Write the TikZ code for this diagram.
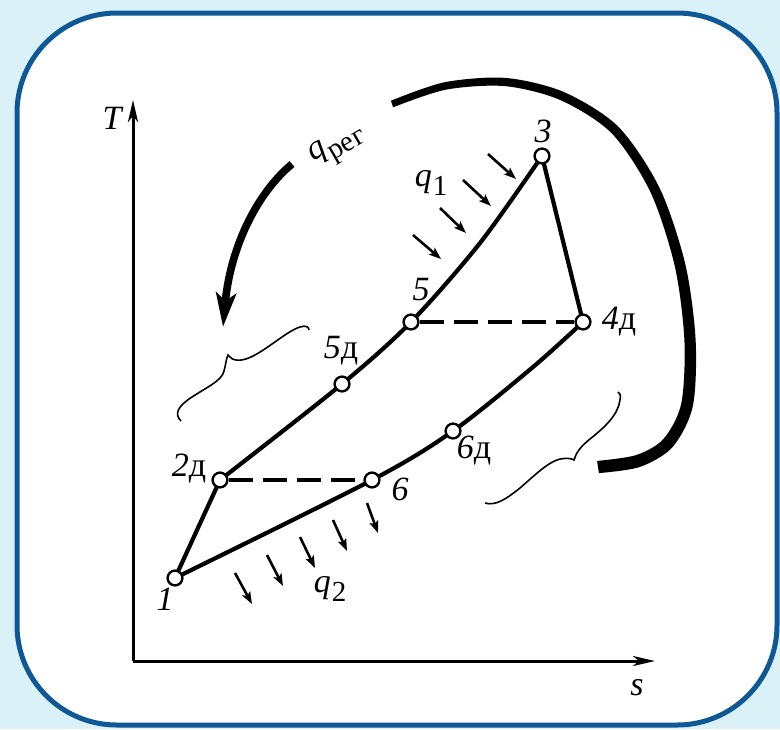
\documentclass[tikz,border=0pt]{standalone}
\usepackage{fontspec}
\setmainfont{Liberation Serif}
\usetikzlibrary{arrows.meta}
\definecolor{bgblue}{RGB}{218,241,248}
\definecolor{frameblue}{RGB}{14,88,150}
\newcommand{\qsb}[1]{\textit{q}\kern0.5pt\raisebox{-0.55ex}{\fontsize{14.5}{15}\selectfont #1}}
\begin{document}
\begin{tikzpicture}[x=0.5pt,y=-0.5pt,
  ptnode/.style={circle,draw,fill=white,line width=1.2pt,minimum size=7.4pt,inner sep=0pt},
  cyc/.style={line width=2.1pt},
  dsh/.style={line width=1.7pt,dash pattern=on 12pt off 5pt},
  axisline/.style={line width=1.5pt,-{Stealth[length=11pt,width=5pt,inset=3pt]}},
  heat/.style={line width=1.3pt,-{Stealth[length=6pt,width=4.4pt,inset=1.2pt]}},
  lab/.style={font=\fontsize{17}{19}\selectfont, inner sep=0pt},
  bracel/.style={line width=0.8pt},
  regarrow/.style={line width=3.8pt,-{Stealth[length=17pt,width=10pt,inset=4pt]}}]
\fill[bgblue] (0,0) rectangle (780,729);
\useasboundingbox (0,0) rectangle (780,729);
\draw[frameblue, line width=2.5pt, fill=white, rounded corners=50pt] (17,13) rectangle (777,725);

% axes
\coordinate (o) at (133,661);
\coordinate (tend) at (133,100);
\coordinate (send) at (655,661);
\draw[axisline] (o) -- (tend);
\draw[axisline] (o) -- (send);
\node[lab] (lT) at (113,118) {\textit{T}};
\node[lab] (ls) at (637,688) {\textit{s}};

% state points
\coordinate (c1) at (175,578);
\coordinate (c2d) at (220,480);
\coordinate (c5d) at (342,384);
\coordinate (c5) at (411,322);
\coordinate (m53) at (480,243);
\coordinate (c3) at (542,156);
\coordinate (c4d) at (583,322);
\coordinate (m46) at (533,367);
\coordinate (c6d) at (453,431);
\coordinate (c6) at (372,480);

\draw[cyc] plot[smooth] coordinates {(c2d) (c5d) (c5) (m53) (c3)};
\draw[cyc] plot[smooth] coordinates {(c4d) (m46) (c6d) (c6) (c1)};
\draw[cyc] (c1) -- (c2d);
\draw[cyc] (c3) -- (c4d);

\node[ptnode] (n1) at (c1) {};
\node[ptnode] (n2d) at (c2d) {};
\node[ptnode] (n5d) at (c5d) {};
\node[ptnode] (n5) at (c5) {};
\node[ptnode] (n3) at (c3) {};
\node[ptnode] (n4d) at (c4d) {};
\node[ptnode] (n6d) at (c6d) {};
\node[ptnode] (n6) at (c6) {};

\draw[dsh] (n2d) -- (n6);
\draw[dsh] (n5) -- (n4d);

% labels
\node[lab] (l1) at (165,599) {\textit{1}};
\node[lab] (l2d) at (189,469) {\textit{2}д};
\node[lab] (l5d) at (341,351) {\textit{5}д};
\node[lab] (l5) at (421,290) {\textit{5}};
\node[lab] (l3) at (543,131) {\textit{3}};
\node[lab] (l4d) at (619,322) {\textit{4}д};
\node[lab] (l6) at (400,489) {\textit{6}};
\node[lab] (l6d) at (474,451) {\textit{6}д};
\node[lab] (lq1) at (431,183) {\qsb{1}};
\node[lab] (lq2) at (330,589) {\qsb{2}};
\node[lab, rotate=30] (lqr) at (338,147) {\qsb{рег}};

% heat arrows q1
\draw[heat] (413,235) -- (441,259);
\draw[heat] (440,208) -- (466,233);
\draw[heat] (463,180) -- (491,206);
\draw[heat] (488,154) -- (516,179);
% heat arrows q2
\draw[heat] (235,573) -- (252,604);
\draw[heat] (267,555) -- (283,586);
\draw[heat] (300,537) -- (315,568);
\draw[heat] (333,520) -- (347,551);
\draw[heat] (367,503) -- (378,533);

% regeneration arrow (tapered band)
\fill plot[smooth] coordinates {(390.9,100.7) (444.3,82.3) (505.3,77.9) (563.8,92.0) (618.3,126.7) (659.5,187.8) (685.2,263.8) (695.6,339.7) (692.8,406.2) (672.6,447.0) (640.0,466.9) (598.9,473.1)}
  -- plot[smooth] coordinates {(597.1,460.9) (636.0,455.1) (663.4,439.0) (681.2,403.8) (684.4,340.3) (674.8,266.2) (650.5,192.2) (611.7,133.3) (560.2,100.0) (504.7,86.1) (445.7,89.7) (393.1,107.3)} -- cycle;
\draw[regarrow] (292,164) .. controls (255,195) and (230,250) .. (223,327);

% braces
\draw[bracel] (181,421) .. controls (174,414) and (178,407) .. (189,399) .. controls (205,388) and (222,381) .. (224,371) .. controls (226,364) and (226,359) .. (228,355) .. controls (232,361) and (240,362) .. (251,357) .. controls (268,349) and (287,331) .. (300,327) .. controls (306,325) and (309,327) .. (309,330);
\draw[bracel] (485,503) .. controls (495,506) and (505,500) .. (520,488) .. controls (535,475) and (548,462) .. (560,459) .. controls (566,458) and (571,458) .. (574,460) .. controls (576,453) and (580,447) .. (590,439) .. controls (605,427) and (618,415) .. (620,400) .. controls (621,395) and (620,393) .. (618,392);
\end{tikzpicture}
\end{document}
